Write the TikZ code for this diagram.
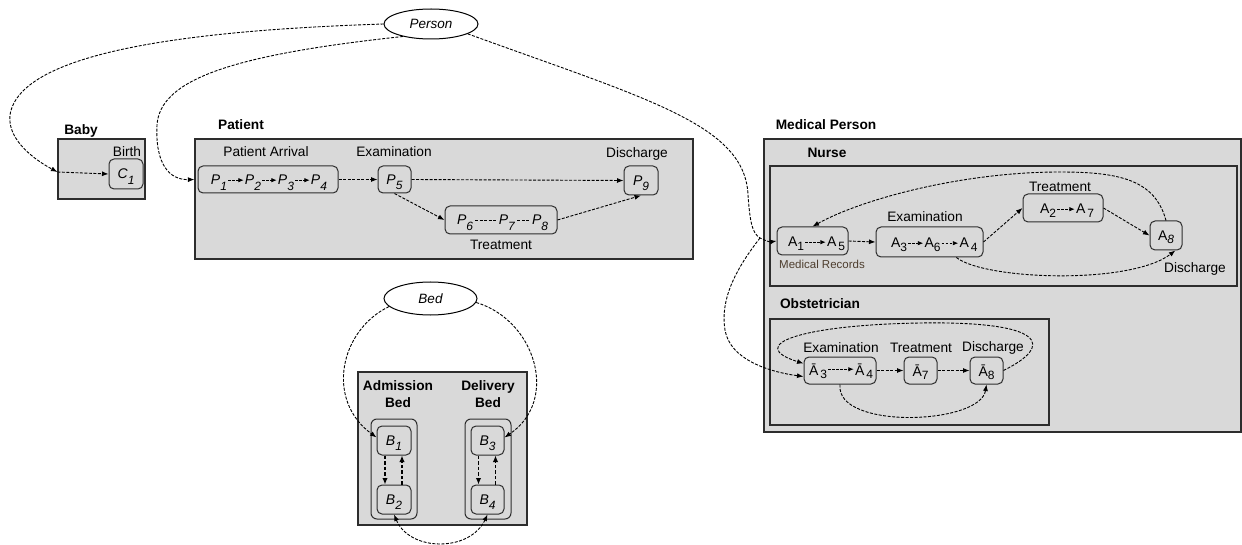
\documentclass[tikz,border=0pt]{standalone}
\usepackage{fontspec}
\setmainfont{Liberation Sans}
\usetikzlibrary{arrows.meta,shapes.geometric}

\definecolor{boxfill}{RGB}{217,217,217}
\definecolor{edge}{RGB}{45,45,45}
\definecolor{recnote}{RGB}{78,62,46}

% subscripts set low, the way the state labels are written
\newcommand\lo[1]{\raisebox{-3.5pt}{\fontsize{12}{12}\selectfont #1}}
\newcommand\plo[2]{\textit{#1}\raisebox{-5.5pt}{\fontsize{12}{12}\selectfont\textit{#2}}}

\tikzset{
  frame/.style={draw=edge, fill=boxfill, line width=1.1pt, inner sep=0pt},
  stage/.style={draw=edge, fill=boxfill, line width=1pt, rounded corners=5pt,
                inner sep=0pt, text depth=0pt, font=\fontsize{14}{16}\selectfont},
  title/.style={font=\fontsize{13.7}{17}\selectfont\bfseries, inner sep=0pt},
  caption/.style={font=\fontsize{13.7}{16}\selectfont, inner sep=0pt},
  entity/.style={ellipse, draw=black, fill=white, line width=1pt,
                 font=\fontsize{13.5}{15}\selectfont\itshape, inner sep=0pt},
  item/.style={font=\fontsize{14}{16}\selectfont, inner sep=1pt, text depth=0pt, anchor=base},
  link/.style={line width=0.9pt, dash pattern=on 3pt off 1.5pt,
               -{Latex[length=6.5pt,width=5pt]}},
  twoway/.style={line width=0.9pt, dash pattern=on 3pt off 1.5pt,
               {Latex[length=6.5pt,width=5pt]}-{Latex[length=6.5pt,width=5pt]}},
  hop/.style={line width=0.9pt, dash pattern=on 2.5pt off 1.5pt,
              -{Latex[length=5.5pt,width=4.5pt]}},
  tie/.style={line width=0.9pt, dash pattern=on 3pt off 1.5pt, shorten <=1pt, shorten >=1pt},
  bedlink/.style={line width=1.4pt, dash pattern=on 3.5pt off 2pt,
                  -{Latex[length=6.5pt,width=5.5pt]}},
}

\begin{document}
\begin{tikzpicture}[x=1pt,y=-1pt]
\useasboundingbox (0,0) rectangle (1242,545);

% ---------- entity types ----------
\node[entity, minimum width=94, minimum height=30] (person) at (431,24) {Person};
\node[entity, minimum width=93, minimum height=33] (bed) at (430.5,298.5) {Bed};

% ---------- Baby ----------
\node[title] (babyttl) at (81,131) {Baby};
\node[frame, minimum width=87, minimum height=60] (babybox) at (101.5,169) {};
\node[caption] (birthttl) at (127,152) {Birth};
\node[stage, minimum width=34, minimum height=30] (c1) at (126,174) {\plo{C}{1}};
\coordinate (babyin) at (babybox.west |- 0,172);

% ---------- Patient ----------
\node[title] (patttl) at (241,125) {Patient};
\node[frame, minimum width=498, minimum height=120] (patbox) at (444,199) {};
\node[caption] (arrttl) at (266,152) {Patient Arrival};
\node[stage, minimum width=140, minimum height=27] (arrival) at (268,179.5) {};
\node[item] (p1) at (219,185) {\plo{P}{1}};
\node[item] (p2) at (253,185) {\plo{P}{2}};
\node[item] (p3) at (286,185) {\plo{P}{3}};
\node[item] (p4) at (319,185) {\plo{P}{4}};
\node[caption] (examttl) at (394,152) {Examination};
\node[stage, minimum width=33, minimum height=27] (p5) at (394.5,179.5) {\plo{P}{5}};
\node[caption] (dischttl) at (637,154) {Discharge};
\node[stage, minimum width=34, minimum height=29] (p9) at (641,180.5) {\plo{P}{9}};
\node[stage, minimum width=112, minimum height=28] (treatbox) at (501,220) {};
\node[item] (p6) at (465,225) {\plo{P}{6}};
\node[item] (p7) at (507,225) {\plo{P}{7}};
\node[item] (p8) at (540,225) {\plo{P}{8}};
\node[caption] (treatttl) at (501,245) {Treatment};

% ---------- Medical Person ----------
\node[title] (medttl) at (826,125) {Medical Person};
\node[frame, minimum width=477, minimum height=293] (medbox) at (1002.5,285.5) {};

% Nurse
\node[title] (nursettl) at (827,153) {Nurse};
\node[frame, minimum width=467, minimum height=120] (nursebox) at (1003.5,226) {};
\node[stage, minimum width=71, minimum height=28] (recbox) at (812.5,241) {};
\node[item] (a1) at (796,247) {A\lo{1}};
\node[item] (a5) at (836,247) {A\kern2pt\lo{5}};
\node[caption, font=\fontsize{11.5}{13}\selectfont, text=recnote] (recttl) at (822,264) {Medical Records};
\node[caption] (exam2ttl) at (925,217) {Examination};
\node[stage, minimum width=107, minimum height=30] (exambox) at (929.5,242) {};
\node[item] (a3) at (899,248) {A\lo{3}};
\node[item] (a6) at (932.5,248) {A\lo{6}};
\node[item] (a4) at (968.5,248) {A\kern2pt\lo{4}};
\node[caption] (treat2ttl) at (1060,187) {Treatment};
\node[stage, minimum width=80, minimum height=28] (trbox) at (1063,208) {};
\node[item] (a2) at (1048,214) {A\lo{2}};
\node[item] (a7) at (1085,214) {A\kern2pt\lo{7}};
\node[stage, minimum width=32, minimum height=29] (a8) at (1166,235.5) {A\lo{\textit{8}}};
\node[caption] (disch2ttl) at (1195,269) {Discharge};

% Obstetrician
\node[title] (obsttl) at (820,304) {Obstetrician};
\node[frame, minimum width=279, minimum height=106] (obsbox) at (909.5,372) {};
\node[caption] (exam3ttl) at (841,348) {Examination};
\node[caption] (treat3ttl) at (921,348) {Treatment};
\node[caption] (disch3ttl) at (993,348) {Discharge};
\node[stage, minimum width=72, minimum height=27] (obsexam) at (840,370.5) {};
\node[item] (ab3) at (818,375) {\={A}\kern2pt\lo{3}};
\node[item] (ab4) at (864,375) {\={A}\kern2pt\lo{4}};
\node[stage, minimum width=33, minimum height=27] (ab7) at (920.5,370.5) {\={A}\lo{7}};
\node[stage, minimum width=33, minimum height=27] (ab8) at (986.5,370.5) {\={A}\lo{8}};

% ---------- Bed ----------
\node[frame, line width=1.6pt, minimum width=169, minimum height=153] (bedbox) at (442.5,448.5) {};
\node[title, align=center] (admttl) at (398,394) {Admission\\Bed};
\node[title, align=center] (delttl) at (488,394) {Delivery\\Bed};
\node[stage, rounded corners=6pt, minimum width=46, minimum height=100] (admgrp) at (394,469) {};
\node[stage, minimum width=34, minimum height=29] (b1) at (394,440.5) {\plo{B}{1}};
\node[stage, minimum width=34, minimum height=29] (b2) at (394,499.5) {\plo{B}{2}};
\node[stage, rounded corners=6pt, minimum width=46, minimum height=100] (delgrp) at (488,469) {};
\node[stage, minimum width=33, minimum height=29] (b3) at (487.5,440.5) {\plo{B}{3}};
\node[stage, minimum width=33, minimum height=29] (b4) at (487.5,499.5) {\plo{B}{4}};

% ---------- transitions inside the states ----------
\draw[hop] (p1) -- (p2);
\draw[hop] (p2) -- (p3);
\draw[hop] (p3) -- (p4);
\draw[tie] (p6) -- (p7);
\draw[tie] (p7) -- (p8);
\draw[hop] (a1) -- (a5);
\draw[hop] (a3) -- (a6);
\draw[hop] (a6) -- (a4);
\draw[hop] (a2) -- (a7);
\draw[hop] (ab3) -- (ab4);

% ---------- Baby / Patient flow ----------
\draw[link] (babyin) -- (c1.west);
\draw[link] (arrival.east) -- (p5.west);
\draw[link] (p5.east) -- (p9.west);
\draw[link] (p5.south) -- (treatbox.west);
\draw[link] (treatbox.east) -- (p9.south);

% ---------- Nurse flow ----------
\draw[link] (recbox.east) -- (exambox.west);
\draw[link] (exambox.east) -- (trbox.west);
\draw[link] (trbox.east) -- (a8.west);
\draw[link] (a8.north) .. controls (1155,180) and (1120,172) .. (1060,172)
                       .. controls (960,172) and (860,200) .. (recbox.north);
\draw[link] (exambox.-30) .. controls (985,280) and (1130,285) .. (a8.-58);

% ---------- Obstetrician flow ----------
\draw[link] (obsexam.east) -- (ab7.west);
\draw[link] (ab7.east) -- (ab8.west);
\draw[link] (ab8.east) .. controls (1055,345) and (1045,321) .. (920,323)
                       .. controls (800,325) and (745,345) .. ([yshift=7pt]obsexam.west);
\draw[link] (obsexam.south) .. controls (835,430) and (980,425) .. (ab8.south);

% ---------- Person specialisations ----------
\coordinate (split) at (760,238);
\draw[link] (person.west) .. controls (200,30) and (20,50) .. (10,115)
                          .. controls (7,140) and (35,160) .. (babyin);
\draw[link] (person.204) .. controls (230,55) and (160,80) .. (157,125)
                         .. controls (155,165) and (170,180) .. (patbox.west |- arrival.west);
\draw[link] (person.345) .. controls (650,100) and (745,125) .. (748,195)
                         .. controls (750,222) and (752,233) .. (split)
                         .. controls (766,241) and (770,242) .. (recbox.west);
\draw[link] (split) .. controls (735,270) and (720,300) .. (725,330)
                    .. controls (730,360) and (770,372) .. ([yshift=-6pt]obsexam.west);

% ---------- Bed specialisations ----------
\draw[link] (bed.191) .. controls (340,330) and (325,400) .. (b1.170);
\draw[link] (bed.355) .. controls (535,320) and (560,400) .. (b3.10);
\draw[bedlink] ([xshift=-9pt]b1.south) -- ([xshift=-9pt]b2.north);
\draw[bedlink] ([xshift=8pt]b2.north) -- ([xshift=8pt]b1.south);
\draw[bedlink] ([xshift=-9pt]b3.south) -- ([xshift=-9pt]b4.north);
\draw[bedlink] ([xshift=8pt]b4.north) -- ([xshift=8pt]b3.south);
\draw[twoway] (b2.south) .. controls (410,552) and (470,552) .. (b4.south);

\end{tikzpicture}
\end{document}
